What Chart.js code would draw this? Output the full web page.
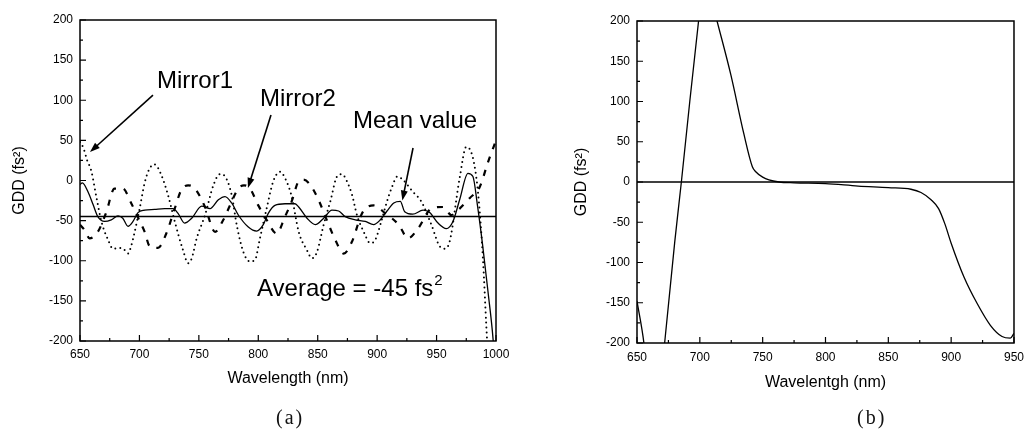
<!DOCTYPE html>
<html>
<head>
<meta charset="utf-8">
<script src="https://cdn.jsdelivr.net/npm/chart.js@4.4.1/dist/chart.umd.min.js"></script>
<style>
    html, body { margin: 0; padding: 0; background: #fff; }
    #wrap { position: relative; width: 1031px; height: 432px; overflow: hidden; }
    .panel { position: absolute; top: 0; }
    .cap { position: absolute; top: 406px; font: 20px "Liberation Serif", "DejaVu Serif", serif; letter-spacing: 2px; color: #111; }
</style>
</head>
<body>
<div id="wrap">
    <canvas id="chartA" class="panel" style="left:0" width="520" height="432"></canvas>
    <canvas id="chartB" class="panel" style="left:520px" width="511" height="432"></canvas>
    <div class="cap" style="left:276px">(a)</div>
    <div class="cap" style="left:857px">(b)</div>
</div>
<script>
// ---- panel (a): GDD of the two mirrors and their mean ----
const mirror1Wl = [650, 653, 656, 659.5, 663.7, 668, 673.6, 677.8, 683.4, 687, 690.4, 693, 696, 700.2, 704.4, 708.6, 712.8, 718.4, 724, 729.7, 736.7, 741, 744, 748.2, 755.2, 762.2, 767.8, 772, 777.6, 781.8, 787.4, 793, 797.2, 801.4, 807, 812.6, 818.3, 822.5, 828.1, 834, 841, 845.2, 849.4, 855, 860.6, 866.2, 870.4, 874.6, 878.9, 883, 888.7, 894.2, 898.4, 902.7, 908.3, 912.5, 917, 921.7, 930, 937.1, 945.6, 952.6, 956.8, 961, 969.4, 975, 980.6, 984.8, 989, 991.8, 994];
const mirror1Gdd = [48, 40, 25, 12, -20, -51, -74, -85, -84, -86, -91, -82, -64, -35, -3, 15, 20, 7, -18, -51, -87, -103, -97, -72, -43, -6, 8, 5, -18, -55, -89, -101, -99, -72, -35, -1, 11, 3, -20, -64, -87, -97, -89, -55, -26, 5, 8, -1, -18, -43, -64, -78, -74, -55, -26, -8, 5, 1, -14, -26, -55, -82, -85, -76, 3, 42, 28, -14, -97, -180, -240];

const mirror2Wl = [650, 654, 658, 665, 672, 679, 686, 693, 700, 704.4, 708.6, 715.6, 722.6, 729.7, 735.2, 741, 746.7, 755.2, 763.6, 770.6, 776.2, 783.2, 788, 793, 800, 807, 815.4, 822.5, 828.1, 834, 838, 842.4, 849.4, 859.2, 864.8, 871.8, 878.9, 887.3, 897, 906.9, 918.1, 926, 934.4, 945.6, 955.4, 962.4, 969.4, 977.8, 986.3, 993.3, 1000];
const mirror2Gdd = [-55, -62, -72, -64, -40, -10, -10, -28, -50, -64, -82, -84, -66, -35, -12, -6, -10, -33, -64, -49, -31, -10, -6, -10, -31, -49, -66, -45, -26, -1, 1, -3, -20, -55, -74, -91, -76, -41, -31, -41, -55, -72, -60, -35, -33, -43, -35, -22, -8, 23, 50];

const meanWl = [650, 652, 656.7, 661, 665, 670.7, 676.3, 682, 686, 690.4, 694.6, 698.8, 704.4, 712.8, 721.3, 728.2, 732.5, 738, 744, 752.4, 759.4, 766.4, 772, 777.6, 783.2, 791.6, 798.6, 804.2, 808.4, 814, 822.5, 830.9, 834, 841, 848, 855, 862, 867.6, 873.2, 881.6, 890, 897, 902.7, 908.3, 914, 919.5, 923.2, 930, 938.6, 944.2, 951.2, 958.2, 963.8, 969.4, 976.4, 980.6, 984.4, 988.7, 993.3, 997.5, 999];
const meanGdd = [-5, -3, -14, -30, -45, -51, -49, -44, -47, -57, -51, -40, -37, -36, -35, -35, -41, -53, -47, -32, -35, -24, -20, -28, -43, -58, -63, -55, -41, -31, -29, -29, -33, -47, -55, -47, -37, -38, -45, -49, -51, -55, -49, -38, -28, -26, -39, -42, -37, -40, -53, -60, -51, -24, 9, 5, -31, -80, -139, -197, -230];

const averageWl = [650, 1000];
const averageGdd = [-45, -45];

// ---- panel (b) ----
const gddBWl = [650, 655.5, 664, 672, 680, 685.3, 692, 699, 703.3, 713.7, 724.7, 735, 741.8, 744.5, 750, 755, 763, 775, 800, 826, 850, 868, 876, 884, 890, 895, 900, 910.2, 920.7, 931.2, 940.5, 947, 950];
const gddB = [-148, -200, -330, -200, -75, 0, 100, 200, 263, 200, 133, 60, 19, 12.8, 6, 2.5, 0, -1, -2, -5, -7, -9, -13, -22, -33, -52, -76, -118, -151, -178, -192, -194, -188];
const zeroWl = [650, 950];
const zeroGdd = [0, 0];

const yTicks = [-200, -150, -100, -50, 0, 50, 100, 150, 200];

function pts(xs, ys) {
    return xs.map((v, i) => ({ x: v, y: ys[i] }));
}

Chart.defaults.font.family = '"Liberation Sans", Arial, sans-serif';
Chart.defaults.color = '#000';

// box round the plot and inward tick marks
const frameTicks = {
    id: 'frameTicks',
    afterDatasetsDraw(chart) {
        const { ctx, chartArea: a, scales: { x, y } } = chart;
        ctx.save();
        ctx.strokeStyle = '#000';
        ctx.lineWidth = 1.5;
        ctx.strokeRect(a.left, a.top, a.right - a.left, a.bottom - a.top);
        ctx.lineWidth = 1.2;
        ctx.beginPath();
        for (let v = x.min; v <= x.max; v += 25) {
            const px = x.getPixelForValue(v);
            const len = (v % 50 === 0) ? 6 : 3;
            ctx.moveTo(px, a.bottom);
            ctx.lineTo(px, a.bottom - len);
        }
        for (let v = y.min; v <= y.max; v += 25) {
            const py = y.getPixelForValue(v);
            const len = (v % 50 === 0) ? 6 : 3;
            ctx.moveTo(a.left, py);
            ctx.lineTo(a.left + len, py);
        }
        ctx.stroke();
        ctx.restore();
    }
};

// text labels and arrows, placed in data units
const notes = {
    id: 'notes',
    afterDatasetsDraw(chart, args, opts) {
        const { ctx, scales: { x, y } } = chart;
        ctx.save();
        ctx.fillStyle = '#000';
        ctx.strokeStyle = '#000';
        (opts.arrows || []).forEach(ar => {
            const x1 = x.getPixelForValue(ar.from[0]), y1 = y.getPixelForValue(ar.from[1]);
            const x2 = x.getPixelForValue(ar.to[0]), y2 = y.getPixelForValue(ar.to[1]);
            const ang = Math.atan2(y2 - y1, x2 - x1);
            ctx.lineWidth = 1.6;
            ctx.beginPath();
            ctx.moveTo(x1, y1);
            ctx.lineTo(x2 - 6 * Math.cos(ang), y2 - 6 * Math.sin(ang));
            ctx.stroke();
            ctx.beginPath();
            ctx.moveTo(x2, y2);
            ctx.lineTo(x2 - 10 * Math.cos(ang) + 3.5 * Math.sin(ang), y2 - 10 * Math.sin(ang) - 3.5 * Math.cos(ang));
            ctx.lineTo(x2 - 10 * Math.cos(ang) - 3.5 * Math.sin(ang), y2 - 10 * Math.sin(ang) + 3.5 * Math.cos(ang));
            ctx.closePath();
            ctx.fill();
        });
        (opts.labels || []).forEach(l => {
            const px = x.getPixelForValue(l.at[0]), py = y.getPixelForValue(l.at[1]);
            ctx.font = '24px "Liberation Sans", Arial, sans-serif';
            ctx.textBaseline = 'middle';
            ctx.textAlign = 'left';
            ctx.fillText(l.text, px, py);
            if (l.sup) {
                const w = ctx.measureText(l.text).width;
                ctx.font = '15px "Liberation Sans", Arial, sans-serif';
                ctx.fillText(l.sup, px + w + 1, py - 9);
            }
        });
        ctx.restore();
    }
};

function axisOpts(min, max, title, fitW, fitH, tickPad) {
    return {
        x: {
            type: 'linear', min: min, max: max,
            afterFit: s => { s.height = fitH; },
            grid: { display: false, drawTicks: false },
            border: { display: false },
            ticks: { stepSize: 50, autoSkip: false, maxRotation: 0, padding: tickPad, font: { size: 12 }, callback: v => String(v) },
            title: { display: true, text: title, font: { size: 16 }, padding: { top: 0, bottom: 0 } }
        },
        y: {
            min: -200, max: 200,
            afterFit: s => { s.width = fitW; },
            afterBuildTicks: s => { s.ticks = yTicks.map(v => ({ value: v })); },
            grid: { display: false, drawTicks: false },
            border: { display: false },
            ticks: { padding: 7, font: { size: 12 }, callback: v => String(v) },
            title: { display: true, text: 'GDD (fs²)', font: { size: 16 }, padding: { top: 2, bottom: 0 } }
        }
    };
}

const ctxA = document.getElementById('chartA').getContext('2d');
new Chart(ctxA, {
    type: 'line',
    data: {
        datasets: [
            { data: pts(mirror1Wl, mirror1Gdd), borderColor: '#000', borderWidth: 2, borderDash: [0, 5], borderCapStyle: 'round', pointRadius: 0, cubicInterpolationMode: 'monotone' },
            { data: pts(mirror2Wl, mirror2Gdd), borderColor: '#000', borderWidth: 2.2, borderDash: [6, 8], pointRadius: 0, cubicInterpolationMode: 'monotone' },
            { data: pts(meanWl, meanGdd), borderColor: '#000', borderWidth: 1.3, pointRadius: 0, cubicInterpolationMode: 'monotone' },
            { data: pts(averageWl, averageGdd), borderColor: '#000', borderWidth: 1.5, pointRadius: 0 }
        ]
    },
    options: {
        responsive: false,
        animation: false,
        events: [],
        layout: { padding: { left: 8, top: 20, right: 24, bottom: 44 } },
        plugins: {
            legend: { display: false },
            tooltip: { enabled: false },
            notes: {
                labels: [
                    { text: 'Mirror1', at: [714.8, 124] },
                    { text: 'Mirror2', at: [801.4, 101.6] },
                    { text: 'Mean value', at: [879.7, 74] },
                    { text: 'Average = -45 fs', sup: '2', at: [798.9, -136] }
                ],
                arrows: [
                    { from: [711.4, 106.5], to: [658.4, 35.5] },
                    { from: [810.7, 81.6], to: [791.3, -9.3] },
                    { from: [930.2, 40.5], to: [921.2, -25] }
                ]
            }
        },
        scales: axisOpts(650, 1000, 'Wavelength (nm)', 72, 47, 6)
    },
    plugins: [frameTicks, notes]
});

const ctxB = document.getElementById('chartB').getContext('2d');
new Chart(ctxB, {
    type: 'line',
    data: {
        datasets: [
            { data: pts(gddBWl, gddB), borderColor: '#000', borderWidth: 1.3, pointRadius: 0, cubicInterpolationMode: 'monotone' },
            { data: pts(zeroWl, zeroGdd), borderColor: '#000', borderWidth: 1.5, pointRadius: 0 }
        ]
    },
    options: {
        responsive: false,
        animation: false,
        events: [],
        layout: { padding: { left: 50, top: 21, right: 14, bottom: 40 } },
        plugins: { legend: { display: false }, tooltip: { enabled: false } },
        scales: axisOpts(650, 950, 'Wavelentgh (nm)', 67, 49, 7)
    },
    plugins: [frameTicks]
});
</script>
</body>
</html>
